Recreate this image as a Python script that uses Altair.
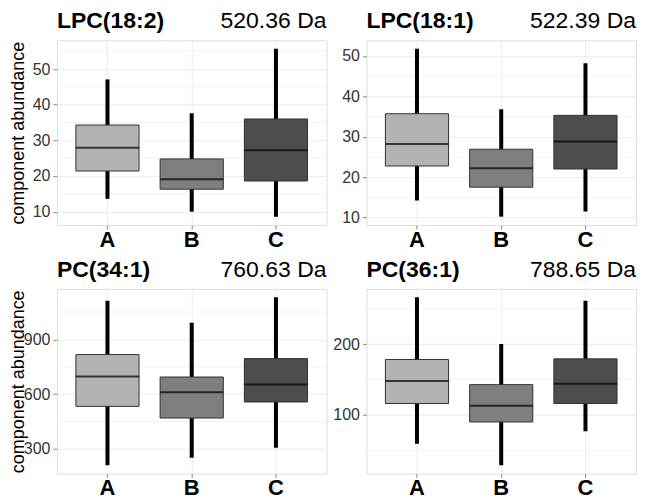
import altair as alt
import pandas as pd

FONT = "Liberation Sans, Arial, sans-serif"

groups = ["A", "B", "C"]
fills = ["#b3b3b3", "#7f7f7f", "#4d4d4d"]

names = ["LPC(18:2)", "LPC(18:1)", "PC(34:1)", "PC(36:1)"]
masses = ["520.36 Da", "522.39 Da", "760.63 Da", "788.65 Da"]

# LPC(18:2)
lpc182_low = [13.6, 10.0, 8.6]
lpc182_q1 = [21.4, 16.3, 18.6]
lpc182_med = [27.9, 19.1, 27.2]
lpc182_q3 = [34.3, 24.8, 36.0]
lpc182_high = [47.1, 37.6, 55.7]

# LPC(18:1)
lpc181_low = [14.2, 10.2, 11.5]
lpc181_q1 = [22.75, 17.5, 22.0]
lpc181_med = [28.2, 22.2, 28.8]
lpc181_q3 = [35.7, 26.9, 35.3]
lpc181_high = [51.8, 36.8, 48.2]

# PC(34:1)
pc341_low = [210, 251, 306]
pc341_q1 = [533, 469, 557]
pc341_med = [697, 611, 653]
pc341_q3 = [817, 694, 795]
pc341_high = [1112, 992, 1131]

# PC(36:1)
pc361_low = [59.2, 28.9, 76.8]
pc361_q1 = [116.1, 90.0, 116.1]
pc361_med = [147.9, 112.8, 144.1]
pc361_q3 = [178.2, 142.7, 179.1]
pc361_high = [265.9, 200.0, 261.1]

major_ticks = [[10, 20, 30, 40, 50], [10, 20, 30, 40, 50], [300, 600, 900], [100, 200]]
minor_ticks = [[15, 25, 35, 45, 55], [15, 25, 35, 45], [450, 750, 1050], [50, 150, 250]]

stats = [
    (lpc182_low, lpc182_q1, lpc182_med, lpc182_q3, lpc182_high),
    (lpc181_low, lpc181_q1, lpc181_med, lpc181_q3, lpc181_high),
    (pc341_low, pc341_q1, pc341_med, pc341_q3, pc341_high),
    (pc361_low, pc361_q1, pc361_med, pc361_q3, pc361_high),
]

W, H = 270, 185


def panel(i, left):
    lo, q1, med, q3, hi = stats[i]
    df = pd.DataFrame({"group": groups, "lo": lo, "q1": q1, "med": med, "q3": q3, "hi": hi})
    mn, mx = min(lo), max(hi)
    pad = (mx - mn) * 0.05
    ydom = [mn - pad, mx + pad]

    xenc = alt.X(
        "group:N",
        scale=alt.Scale(type="band", paddingInner=0.25, paddingOuter=0.225),
        axis=alt.Axis(
            title=None, labelAngle=0, labelFont=FONT, labelFontSize=22, labelFontWeight="bold",
            labelColor="#000000", tickSize=4, tickColor="#888888", labelPadding=0,
            domain=False, grid=True, gridColor="#ebebeb", bandPosition=0.5,
        ),
    )
    yaxis = alt.Axis(
        values=major_ticks[i], labelFont=FONT, labelFontSize=16, labelColor="#333333",
        tickSize=4, tickColor="#888888", labelPadding=3, domain=False, grid=True,
        gridColor="#ebebeb", minExtent=25, maxExtent=25,
        title="component abundance" if left else None,
        titleFont=FONT, titleFontSize=18, titleFontWeight="normal", titleColor="#000000",
        titlePadding=4,
    )
    yscale = alt.Scale(domain=ydom, nice=False, zero=False)

    minor_df = pd.DataFrame({"v": minor_ticks[i]})
    minor = alt.Chart(minor_df).mark_rule(color="#f3f3f3", strokeWidth=1).encode(
        y=alt.Y("v:Q", scale=yscale, axis=yaxis)
    )
    base = alt.Chart(df)
    whisk = base.mark_rule(color="#000000", strokeWidth=4).encode(
        x=xenc, y=alt.Y("lo:Q", scale=yscale, axis=yaxis), y2="hi:Q"
    )
    box = base.mark_bar(stroke="#333333", strokeWidth=1).encode(
        x=xenc, y=alt.Y("q1:Q"), y2="q3:Q",
        color=alt.Color("group:N", scale=alt.Scale(domain=groups, range=fills), legend=None),
    )
    medline = base.mark_tick(color="#000000", thickness=2).encode(
        x=xenc, y=alt.Y("med:Q")
    )
    head_df = pd.DataFrame({"name": [names[i]], "mass": [masses[i]]})
    name_t = alt.Chart(head_df).mark_text(
        align="left", baseline="alphabetic", font=FONT, fontSize=23, fontWeight="bold",
        color="#000000"
    ).encode(text="name:N", x=alt.value(0), y=alt.value(-12))
    mass_t = alt.Chart(head_df).mark_text(
        align="right", baseline="alphabetic", font=FONT, fontSize=23, color="#000000"
    ).encode(text="mass:N", x=alt.value(W), y=alt.value(-12))

    return alt.layer(minor, whisk, box, medline, name_t, mass_t).properties(width=W, height=H)


chart = alt.concat(
    panel(0, True), panel(1, False), panel(2, True), panel(3, False),
    columns=2, bounds="flush", spacing=alt.RowColnumber(row=64, column=40),
).properties(
    padding={"left": 1, "top": 1, "right": 0, "bottom": 0}
).configure_view(
    stroke="#999999", strokeWidth=1
).configure(background="#ffffff")

chart.save("out.html", embed_options={"renderer": "svg", "actions": False})
